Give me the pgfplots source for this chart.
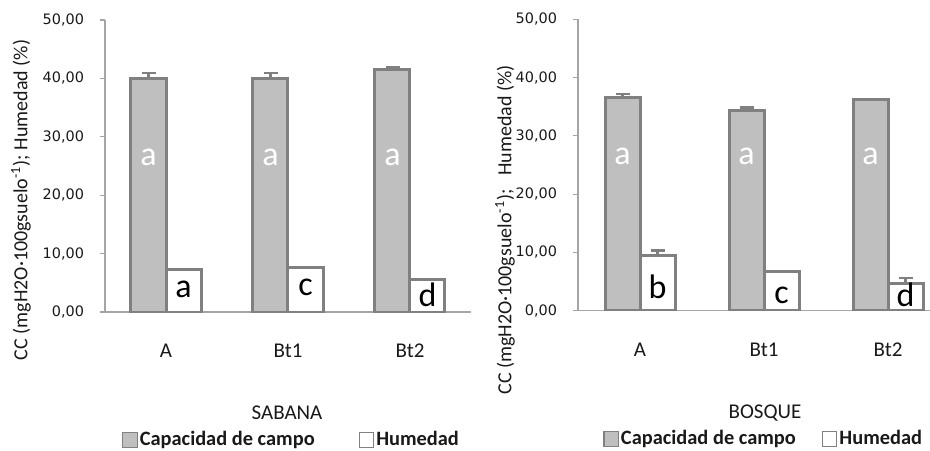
\documentclass[border=0pt]{standalone}
\usepackage{fontspec}
\setmainfont{DejaVu Sans}
\newfontfamily\calib{Carlito}
\usepackage{pgfplots}
\pgfplotsset{compat=1.18}
\definecolor{barfill}{RGB}{191,191,191}
\definecolor{barline}{RGB}{128,128,128}
\definecolor{axline}{RGB}{165,165,165}
\definecolor{txt}{RGB}{25,25,25}
\pgfplotsset{
  mystyle/.style={
    scale only axis,
    axis lines=left,
    axis line style={-, draw=axline, line width=0.6pt},
    ymin=0, ymax=50, ytick={0,10,...,50},
    xmin=-0.5,
    xtick={0,1,2}, xticklabels={A,Bt1,Bt2},
    xtick style={draw=none},
    ytick style={draw=axline, line width=0.6pt},
    tick align=outside, major tick length=2.5pt,
    yticklabel={\pgfmathprintnumber[fixed,fixed zerofill,precision=2,use comma,assume math mode=true]{\tick}},
    yticklabel style={font=\fontsize{7.2}{9}\selectfont, text=txt, xshift=-4.5pt},
    xticklabel style={font=\calib\fontsize{10.5}{12}\selectfont, text=txt, yshift=-10pt},
    ybar=0pt, bar width=17.5pt,
    legend columns=2,
    legend style={draw=none, fill=none, inner sep=0pt, font=\calib\bfseries\fontsize{10.2}{11}\selectfont, text=txt, anchor=west,
      nodes={inner xsep=1pt},
      /tikz/every even column/.append style={column sep=21pt}},
    legend image code/.code={\draw[#1, line width=0.6pt] (0pt,-3.6pt) rectangle (7.2pt,3.6pt);},
  },
  cc/.style={draw=barline, fill=barfill, line width=1.5pt,
    error bars/.cd, y dir=plus, y explicit,
    error bar style={line width=1.2pt, draw=barline},
    error mark options={rotate=90, mark size=3.5pt, line width=1.2pt, draw=barline}},
  hu/.style={draw=barline, fill=white, line width=1.5pt,
    error bars/.cd, y dir=plus, y explicit,
    error bar style={line width=1.2pt, draw=barline},
    error mark options={rotate=90, mark size=3.5pt, line width=1.2pt, draw=barline}},
}
\begin{document}
\begin{tikzpicture}
\useasboundingbox (0,0) rectangle (465pt,225pt);
% ---------------- SABANA ----------------
\begin{axis}[mystyle, at={(52.5pt,69pt)}, anchor=south west,
  width=183pt, height=146pt, xmax=2.5,
  legend style={at={(0.046,-0.438)}}]
\addplot[cc]
  coordinates {(0,40.0) +- (0,0.9) (1,40.0) +- (0,0.9) (2,41.6) +- (0,0.3)};
\addplot[hu]
  coordinates {(0,7.2) +- (0,0) (1,7.7) +- (0,0) (2,5.5) +- (0,0)};
\legend{Capacidad de campo, Humedad}
\draw[axline, line width=0.6pt] (axis cs:-0.5,0) -- ++(0,-65pt);
\draw[axline, line width=0.6pt] (axis cs:0.5,0) -- ++(0,-32pt);
\draw[axline, line width=0.6pt] (axis cs:1.5,0) -- ++(0,-32pt);
\begin{scope}[every node/.style={font=\calib\fontsize{17}{17}\selectfont}]
\node[text=white, xshift=-8.75pt] at (axis cs:0,26.5) {a};
\node[text=white, xshift=-8.75pt] at (axis cs:1,26.5) {a};
\node[text=white, xshift=-8.75pt] at (axis cs:2,26.5) {a};
\node[text=black, xshift=8.75pt] at (axis cs:0,3.8) {a};
\node[text=black, xshift=8.75pt] at (axis cs:1,4.3) {c};
\node[text=black, xshift=8.75pt] at (axis cs:2,2.9) {d};
\end{scope}
\end{axis}
% ---------------- BOSQUE ----------------
\begin{axis}[mystyle, at={(289pt,69.65pt)}, anchor=south west,
  width=176pt, height=145.7pt, xmax=2.3387,
  legend style={at={(0.071,-0.44)}, /tikz/every even column/.append style={column sep=12pt}}]
\addplot[cc]
  coordinates {(0,36.6) +- (0,0.6) (1,34.4) +- (0,0.5) (2,36.2) +- (0,0)};
\addplot[hu]
  coordinates {(0,9.4) +- (0,0.9) (1,6.8) +- (0,0) (2,4.7) +- (0,0.9)};
\legend{Capacidad de campo, Humedad}
\draw[axline, line width=0.6pt] (axis cs:-0.5,0) -- ++(0,-65pt);
\draw[axline, line width=0.6pt] (axis cs:0.5,0) -- ++(0,-33pt);
\draw[axline, line width=0.6pt] (axis cs:1.5,0) -- ++(0,-33pt);
\begin{scope}[every node/.style={font=\calib\fontsize{17}{17}\selectfont}]
\node[text=white, xshift=-8.75pt] at (axis cs:0,26.5) {a};
\node[text=white, xshift=-8.75pt] at (axis cs:1,26.5) {a};
\node[text=white, xshift=-8.75pt] at (axis cs:2,26.5) {a};
\node[text=black, xshift=8.75pt] at (axis cs:0,4.1) {b};
\node[text=black, xshift=8.75pt] at (axis cs:1,2.7) {c};
\node[text=black, xshift=8.75pt] at (axis cs:2,2.7) {d};
\end{scope}
\end{axis}
% titles and axis labels
\node[font=\calib\fontsize{10.5}{12}\selectfont, text=txt] at (143.5pt,18.5pt) {SABANA};
\node[font=\calib\fontsize{10.5}{12}\selectfont, text=txt] at (382.5pt,18.5pt) {BOSQUE};
\node[rotate=90, font=\calib\fontsize{10}{11}\selectfont, text=txt] at (10.5pt,125pt)
  {CC (mgH2O·100gsuelo\textsuperscript{-1}); Humedad (\%)};
\node[rotate=90, font=\calib\fontsize{10}{11}\selectfont, text=txt] at (252.5pt,110pt)
  {CC (mgH2O·100gsuelo\textsuperscript{-1});\ \ \ Humedad (\%)};
\end{tikzpicture}
\end{document}
